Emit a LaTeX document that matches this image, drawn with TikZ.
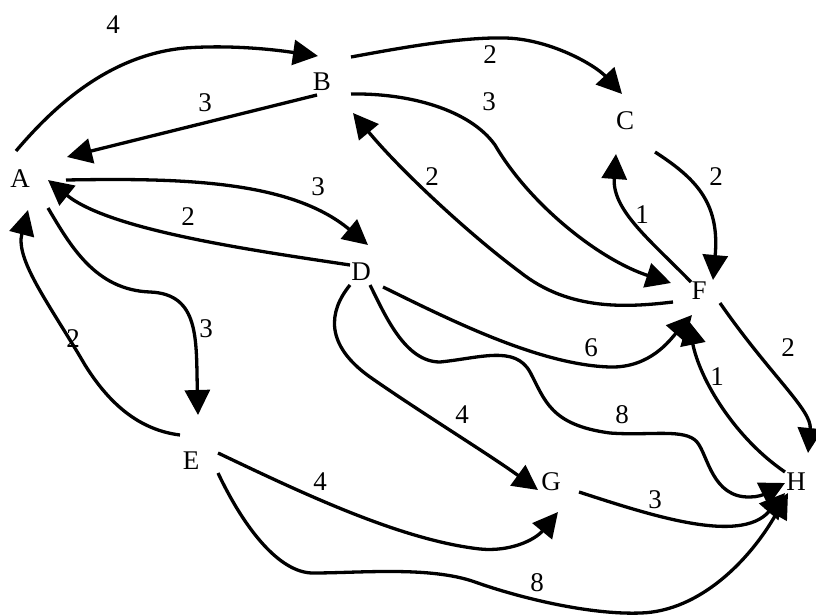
\documentclass[tikz,border=0pt]{standalone}
\usepackage{fontspec}
\setmainfont{Liberation Serif}
\usetikzlibrary{arrows.meta}
\begin{document}
\begin{tikzpicture}[x=1pt,y=-1pt,
  vtx/.style={font=\fontsize{27}{32}\selectfont, inner sep=0pt},
  wt/.style={font=\fontsize{27}{32}\selectfont, inner sep=0pt},
  link/.style={line width=3.3pt, line cap=butt, -{Triangle[length=25pt,width=25pt]}}]
\useasboundingbox (0,0) rectangle (816,615);
% vertices
\node[vtx] (A) at (20,179) {A};
\node[vtx] (B) at (322,82) {B};
\node[vtx] (C) at (625,121) {C};
\node[vtx] (D) at (361,272) {D};
\node[vtx] (E) at (191,461) {E};
\node[vtx] (F) at (699,291) {F};
\node[vtx] (G) at (551,482) {G};
\node[vtx] (H) at (796,482) {H};
% A -> B
\draw[link] ([shift={(-4,-28)}]A.center) .. controls (55,105) and (110,55) .. (185,48)
  .. controls (240,44) and (290,52) .. ([shift={(-4,-26)}]B.center);
\node[wt] (wAB) at (113,25) {4};
% B -> A
\draw[link] ([shift={(-5,13)}]B.center) -- ([shift={(47,-22)}]A.center);
\node[wt] (wBA) at (205,103) {3};
% B -> C
\draw[link] ([shift={(29,-25)}]B.center) .. controls (400,48) and (460,37) .. (505,38)
  .. controls (550,39) and (595,65) .. ([shift={(-3,-27)}]C.center);
\node[wt] (wBC) at (490,55) {2};
% B -> F
\draw[link] ([shift={(29,12)}]B.center) .. controls (410,93) and (470,110) .. (495,145)
  .. controls (530,205) and (600,260) .. ([shift={(-28,-8)}]F.center);
\node[wt] (wBF) at (489,102) {3};
% F -> B
\draw[link] ([shift={(-26,11)}]F.center) .. controls (630,307) and (570,312) .. (520,272)
  .. controls (470,235) and (400,170) .. ([shift={(31,31)}]B.center);
\node[wt] (wFB) at (432,177) {2};
% C -> F
\draw[link] ([shift={(30,31)}]C.center) .. controls (695,178) and (720,202) .. ([shift={(14,-11)}]F.center);
\node[wt] (wCF) at (716,177) {2};
% F -> C
\draw[link] ([shift={(-8,-9)}]F.center) .. controls (650,240) and (612,210) .. ([shift={(-9,33)}]C.center);
\node[wt] (wFC) at (642,215) {1};
% A -> D
\draw[link] ([shift={(46,1)}]A.center) .. controls (180,178) and (290,180) .. ([shift={(7,-27)}]D.center);
\node[wt] (wAD) at (318,187) {3};
% D -> A
\draw[link] ([shift={(-11,-7)}]D.center) .. controls (250,250) and (110,230) .. ([shift={(28,1)}]A.center);
\node[wt] (wDA) at (188,217) {2};
% A -> E
\draw[link] ([shift={(28,29)}]A.center) .. controls (70,245) and (95,290) .. (150,292)
  .. controls (200,294) and (196,340) .. ([shift={(7,-46)}]E.center);
\node[wt] (wAE) at (206,329) {3};
% E -> A
\draw[link] ([shift={(-11,-26)}]E.center) .. controls (140,430) and (110,405) .. (85,365)
  .. controls (50,305) and (15,260) .. ([shift={(8,31)}]A.center);
\node[wt] (wEA) at (73,339) {2};
% E -> G
\draw[link] ([shift={(27,-8)}]E.center) .. controls (300,492) and (400,540) .. (480,549)
  .. controls (510,552) and (535,540) .. ([shift={(7,30)}]G.center);
\node[wt] (wEG) at (320,482) {4};
% E -> H
\draw[link] ([shift={(27,12)}]E.center) .. controls (245,530) and (280,573) .. (313,573)
  .. controls (360,573) and (430,566) .. (475,582)
  .. controls (520,598) and (590,615) .. (641,613)
  .. controls (700,611) and (750,560) .. ([shift={(-8,11)}]H.center);
\node[wt] (wEH) at (537,583) {8};
% D -> G
\draw[link] ([shift={(-11,13)}]D.center) .. controls (328,312) and (325,345) .. (370,377)
  .. controls (420,412) and (490,455) .. ([shift={(-13,8)}]G.center);
\node[wt] (wDG) at (462,415) {4};
% D -> F
\draw[link] ([shift={(22,15)}]D.center) .. controls (450,320) and (540,365) .. (610,367)
  .. controls (650,368) and (670,340) .. ([shift={(-7,24)}]F.center);
\node[wt] (wDF) at (591,348) {6};
% D -> H
\draw[link] ([shift={(9,13)}]D.center) .. controls (385,315) and (405,362) .. (440,362)
  .. controls (480,358) and (515,345) .. (530,372)
  .. controls (545,400) and (550,425) .. (610,433)
  .. controls (650,436) and (685,428) .. (697,442)
  .. controls (708,455) and (712,498) .. (750,497)
  .. controls (765,497) and (775,488) .. ([shift={(-11,1)}]H.center);
\node[wt] (wDH) at (622,415) {8};
% F -> H
\draw[link] ([shift={(21,12)}]F.center) .. controls (770,375) and (812,410) .. ([shift={(12,-29)}]H.center);
\node[wt] (wFH) at (788,348) {2};
% H -> F
\draw[link] ([shift={(-11,-10)}]H.center) .. controls (735,438) and (700,380) .. ([shift={(-11,29)}]F.center);
\node[wt] (wHF) at (717,377) {1};
% G -> H
\draw[link] ([shift={(28,10)}]G.center) .. controls (650,515) and (740,545) .. ([shift={(-11,11)}]H.center);
\node[wt] (wGH) at (655,500) {3};
\end{tikzpicture}
\end{document}
